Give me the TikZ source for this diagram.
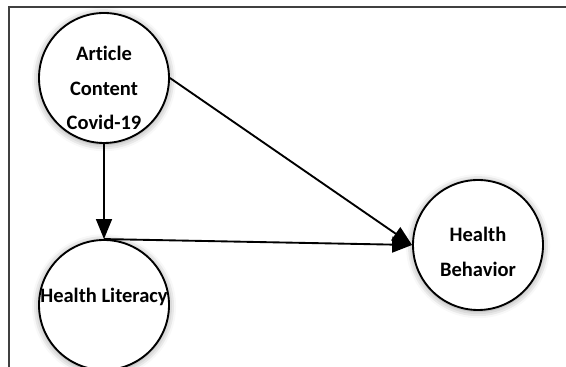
\documentclass[tikz,border=0pt]{standalone}
\usepackage{fontspec}
\setmainfont[Ligatures=NoCommon]{Carlito}
\usepackage{tikz}
\usetikzlibrary{arrows.meta, positioning, calc, shadows.blur}

\begin{document}
\begin{tikzpicture}[
    font=\bfseries\fontsize{17.5}{29.5}\selectfont,
    >={Triangle[length=17pt, width=13.5pt]},
    construct/.style={circle, draw=black, line width=1.6pt, fill=white, minimum size=3.9cm, inner sep=0pt,
        blur shadow={shadow xshift=0pt, shadow yshift=-1pt, shadow blur radius=6pt, shadow opacity=45}},
    txt/.style={align=center, inner sep=0pt},
    arrow/.style={->, line width=1.6pt, black},
    frame/.style={line width=1.3pt, black!75}
]
\useasboundingbox (0,0) rectangle (16.98,11.01);

% Frame
\draw[frame] (0.27,0) -- (0.27,10.8) -- (16.98,10.8);

% Nodes
\node[construct] (art) at (3.12, 8.67) {};
\node[construct] (lit) at (3.12, 1.86) {};
\node[construct] (beh) at (14.34, 3.66) {};

% Paths
\draw[arrow] (art.south) -- (lit.north);
\draw[arrow] (lit.north) -- (beh.west);
\draw[arrow] (art.east) -- (beh.west);

% Labels
\node[txt] (artTxt) at ([yshift=-0.3cm]art.center) {Article\\Content\\Covid-19};
\node[txt] (litTxt) at ([yshift=0.24cm]lit.center) {Health Literacy};
\node[txt] (behTxt) at ([yshift=-0.2cm]beh.center) {Health\\Behavior};

\end{tikzpicture}
\end{document}
